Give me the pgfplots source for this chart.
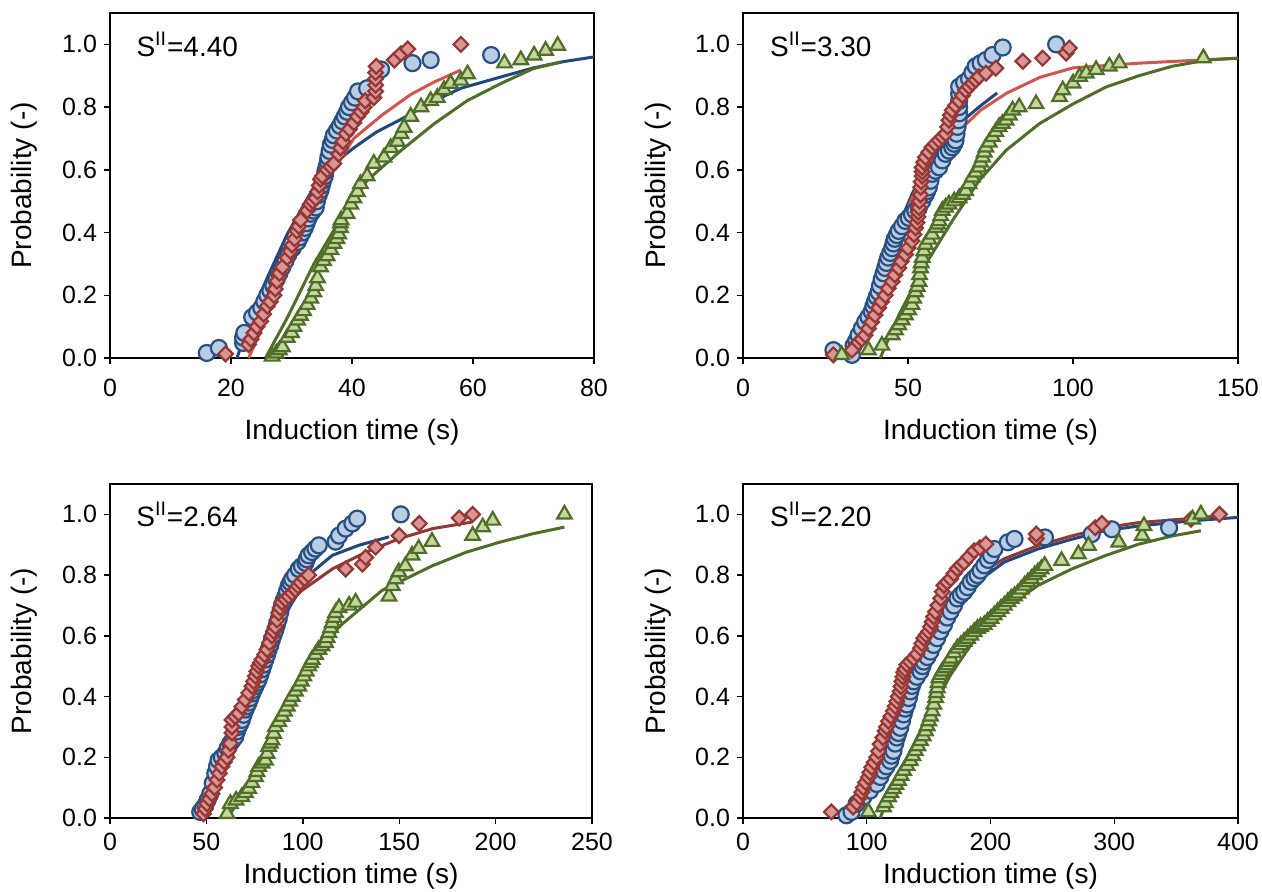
\documentclass[border=0pt]{standalone}
\usepackage{fontspec}
\setmainfont{Liberation Sans}
\usepackage{pgfplots}
\pgfplotsset{compat=1.18}
\definecolor{circfill}{RGB}{185,205,229}
\definecolor{circedge}{RGB}{40,80,130}
\definecolor{diafill}{RGB}{217,150,148}
\definecolor{diaedge}{RGB}{149,55,53}
\definecolor{trifill}{RGB}{195,214,155}
\definecolor{triedge}{RGB}{80,110,40}
\definecolor{lineblue}{RGB}{31,73,125}
\definecolor{linered}{RGB}{210,85,80}
\definecolor{linedkred}{RGB}{149,55,53}
\definecolor{linegreen}{RGB}{79,110,40}
\pgfplotsset{
  panel/.style={
    scale only axis, anchor=south west,
    ymin=0, ymax=1.1, ytick={0,0.2,0.4,0.6,0.8,1.0},
    tick align=outside, xtick pos=bottom, ytick pos=left,
    major tick length=3pt,
    axis line style={line width=0.7pt},
    tick style={line width=0.7pt, black},
    yticklabel style={/pgf/number format/.cd, fixed, fixed zerofill, precision=1},
    /pgf/number format/assume math mode=true,
    every tick label/.style={font=\fontsize{12.5}{14}\selectfont},
    ylabel={Probability (-)}, xlabel={Induction time (s)},
    label style={font=\fontsize{14}{16}\selectfont},
    clip=false,
  },
  circ/.style={only marks, mark=*, mark size=4pt,
    mark options={fill=circfill, draw=circedge, line width=1.1pt}},
  dia/.style={only marks, mark=square*, mark size=2.6pt,
    mark options={rotate=45, fill=diafill, draw=diaedge, line width=1.1pt}},
  tri/.style={only marks, mark=triangle*, mark size=4.2pt,
    mark options={fill=trifill, draw=triedge, line width=1.1pt}},
  fit/.style={no marks, line width=1.5pt},
}
\newcommand{\sval}[1]{\node[anchor=west, inner sep=0pt, font=\fontsize{14}{16}\selectfont]
  at (rel axis cs:0.054,0.909) {S\textsuperscript{II}=#1};}

\begin{document}
\begin{tikzpicture}
\useasboundingbox (0,0) rectangle (631pt,446pt);

%% S=4.40
\begin{axis}[panel, at={(55pt,267pt)}, width=242pt, height=172.5pt,
  xmin=0, xmax=80, xtick={0,20,40,60,80},
  xticklabel style={yshift=-4pt},
  xlabel style={at={(axis description cs:0.5,-0.215)}, anchor=center},
  ylabel style={at={(axis description cs:-0.178,0.5)}, anchor=center}]
\addplot[circ] coordinates {(16,0.016)(18,0.032)(22,0.048)(22,0.065)(22.2,0.08)(23.5,0.13)(24.3,0.145)(25,0.16)(25.5,0.18)(26,0.2)(26.5,0.215)(27,0.23)(27.5,0.25)(28,0.27)(28.5,0.29)(29,0.31)(29.5,0.33)(30.2,0.35)(31,0.37)(31.4,0.385)(31.8,0.4)(32.2,0.415)(32.5,0.43)(32.8,0.445)(33.2,0.46)(33.6,0.47)(34,0.48)(34.2,0.5)(34.5,0.52)(34.8,0.535)(35,0.55)(35.2,0.565)(35.5,0.58)(35.6,0.595)(35.8,0.61)(36,0.625)(36.1,0.64)(36.3,0.66)(36.5,0.68)(36.8,0.695)(37,0.71)(37.5,0.725)(38,0.74)(38.4,0.755)(38.8,0.77)(39.2,0.785)(39.5,0.8)(40,0.815)(40.5,0.83)(41,0.85)(42.5,0.86)(44.8,0.92)(50,0.94)(53,0.95)(63,0.966)};
\addplot[dia] coordinates {(19.1,0.013)(22.9,0.043)(23.3,0.06)(23.8,0.08)(24.3,0.1)(24.9,0.117)(25.4,0.14)(26,0.165)(26.5,0.18)(27.1,0.2)(27.3,0.22)(27.6,0.245)(28,0.27)(28.5,0.29)(29.3,0.32)(29.8,0.34)(30.1,0.36)(30.5,0.38)(30.9,0.405)(31.2,0.42)(31.5,0.44)(32.6,0.47)(33.1,0.49)(33.5,0.5)(34,0.51)(34.3,0.53)(34.6,0.55)(34.8,0.57)(35.1,0.58)(35.9,0.6)(36.5,0.61)(37,0.62)(37.8,0.65)(38.1,0.67)(38.5,0.69)(39,0.715)(39.6,0.73)(40.3,0.75)(40.9,0.77)(41.5,0.785)(42,0.8)(42.2,0.82)(43.6,0.83)(43.9,0.85)(43.9,0.87)(43.9,0.89)(43.9,0.91)(44,0.93)(47,0.95)(48.1,0.97)(49.2,0.985)(58,1.0)};
\addplot[tri] coordinates {(26.8,0.005)(27.5,0.015)(28,0.025)(28.5,0.035)(29.3,0.065)(30,0.08)(30.4,0.1)(31,0.12)(31.5,0.135)(32,0.15)(32.6,0.17)(33.2,0.19)(33.7,0.21)(34,0.23)(34.3,0.255)(34.8,0.29)(35.3,0.31)(35.9,0.325)(36.5,0.345)(37,0.365)(37.5,0.38)(37.8,0.395)(38.1,0.415)(38.1,0.43)(38.2,0.44)(39.2,0.46)(39.8,0.49)(40.3,0.51)(40.9,0.53)(41.4,0.555)(42.5,0.58)(43.6,0.62)(45.3,0.64)(46.4,0.67)(47.5,0.69)(48.1,0.715)(48.6,0.735)(49.7,0.77)(51.4,0.8)(53,0.82)(54.1,0.83)(55.2,0.855)(56.3,0.875)(58,0.885)(59.1,0.905)(65.2,0.94)(67.9,0.95)(70.1,0.965)(72,0.98)(74,0.996)};
\addplot[fit, lineblue] coordinates {(21,0)(23.2,0.13)(26,0.256)(29.3,0.395)(33.7,0.545)(37,0.62)(40.3,0.67)(44,0.72)(48,0.76)(53.6,0.82)(58,0.86)(64.6,0.896)(70,0.925)(75,0.945)(80,0.96)};
\addplot[fit, linered] coordinates {(22.9,0)(25,0.09)(27,0.18)(29,0.29)(31.5,0.395)(34,0.51)(37,0.6)(40.3,0.70)(45,0.775)(49.7,0.84)(53.6,0.88)(58,0.918)};
\addplot[fit, linegreen] coordinates {(25.7,0)(29.3,0.128)(33.7,0.3)(38,0.44)(42.5,0.566)(48,0.66)(53.6,0.747)(59,0.82)(64.6,0.875)(70,0.923)(74.6,0.944)};
\sval{4.40}
\end{axis}

%% S=3.30
\begin{axis}[panel, at={(371.5pt,267pt)}, width=247.5pt, height=172.5pt,
  xmin=0, xmax=150, xtick={0,50,100,150},
  xticklabel style={yshift=-4pt},
  xlabel style={at={(axis description cs:0.5,-0.215)}, anchor=center},
  ylabel style={at={(axis description cs:-0.172,0.5)}, anchor=center}]
\addplot[circ] coordinates {(27.4,0.025)(33,0.01)(33.5,0.04)(34.3,0.055)(35,0.073)(36,0.094)(37,0.115)(38,0.131)(39,0.148)(39.5,0.165)(40,0.18)(40.5,0.195)(41.1,0.21)(41.5,0.23)(42,0.25)(42.6,0.27)(43.1,0.287)(43.5,0.303)(44,0.32)(44.6,0.335)(45.2,0.35)(45.6,0.365)(46,0.38)(46.6,0.392)(47.2,0.405)(48.2,0.42)(49.2,0.437)(50.2,0.447)(51.2,0.458)(52.2,0.469)(53.3,0.48)(54.3,0.5)(55.3,0.52)(55.8,0.532)(56.3,0.544)(56.8,0.565)(57.3,0.587)(58.3,0.597)(59.4,0.608)(60.4,0.63)(61.4,0.651)(62.4,0.661)(63.4,0.672)(64,0.683)(64.4,0.694)(64.7,0.715)(65,0.737)(65.3,0.758)(65.5,0.78)(65.5,0.8)(65.5,0.82)(65.5,0.842)(65.5,0.865)(67,0.878)(68.5,0.89)(69.5,0.91)(70.5,0.93)(72,0.94)(73.6,0.95)(75.6,0.966)(78.7,0.99)(94.9,1.0)};
\addplot[dia] coordinates {(27.4,0.01)(33,0.025)(35,0.05)(36,0.06)(37,0.073)(38,0.094)(39,0.115)(40,0.137)(41.1,0.16)(42,0.18)(43.1,0.2)(44,0.222)(45.2,0.244)(46,0.265)(47.2,0.287)(48,0.308)(49.2,0.33)(50,0.351)(51.2,0.373)(51.8,0.394)(52.3,0.415)(52.7,0.432)(53,0.45)(53.1,0.465)(53.3,0.48)(53.5,0.5)(53.8,0.52)(53.8,0.544)(54,0.562)(54.3,0.58)(54.3,0.594)(54.3,0.608)(54.8,0.624)(55.3,0.64)(56.3,0.656)(57.3,0.672)(58.3,0.683)(59.4,0.694)(60.4,0.705)(61.4,0.715)(62,0.737)(62.4,0.758)(62.9,0.774)(63.4,0.79)(64.4,0.805)(65.5,0.82)(66.5,0.837)(67.5,0.854)(68.5,0.865)(69.5,0.876)(70.5,0.886)(71.5,0.897)(73.6,0.908)(76.6,0.924)(84.8,0.946)(90.8,0.956)(97.9,0.972)(98.9,0.988)};
\addplot[tri] coordinates {(29.9,0.01)(38,0.025)(42.1,0.04)(45.2,0.073)(46.2,0.089)(47.2,0.105)(48.2,0.121)(49.2,0.137)(50.2,0.153)(51.2,0.17)(51.7,0.19)(52.3,0.21)(52.8,0.227)(53.3,0.244)(53.5,0.265)(53.8,0.287)(54,0.303)(54.3,0.32)(54.8,0.341)(55.3,0.362)(56.3,0.378)(57.3,0.394)(58.4,0.415)(59,0.426)(59.4,0.437)(59.9,0.453)(60.4,0.47)(61.4,0.48)(62.4,0.49)(64,0.5)(65.5,0.51)(66.5,0.521)(67.5,0.533)(68.5,0.555)(69.5,0.576)(70.5,0.592)(71.5,0.608)(72,0.624)(72.6,0.64)(73.1,0.656)(73.6,0.672)(74.6,0.688)(75.6,0.705)(76.6,0.721)(77.6,0.737)(78.6,0.747)(79.7,0.758)(80.7,0.774)(81.7,0.79)(83.7,0.8)(88.8,0.81)(95.9,0.833)(96.9,0.854)(100,0.876)(102,0.897)(104,0.908)(107,0.919)(111,0.93)(114,0.94)(139.5,0.956)};
\addplot[fit, lineblue] coordinates {(31,0)(35,0.1)(39,0.21)(45.2,0.373)(51.2,0.522)(55,0.6)(59.4,0.672)(65.5,0.747)(71.5,0.8)(77,0.845)};
\addplot[fit, linered] coordinates {(32,0)(39,0.18)(45.2,0.35)(51.2,0.51)(55,0.59)(59.4,0.665)(65,0.72)(72,0.79)(80,0.845)(90,0.895)(100,0.925)(120,0.94)(150,0.956)};
\addplot[fit, linegreen] coordinates {(41.6,0)(47.2,0.137)(55.3,0.298)(63.4,0.437)(71.5,0.565)(79.7,0.662)(89.8,0.747)(100,0.81)(110,0.864)(120,0.9)(130,0.93)(140.6,0.95)(150,0.956)};
\sval{3.30}
\end{axis}

%% S=2.64
\begin{axis}[panel, at={(55pt,37pt)}, width=241pt, height=167pt,
  xmin=0, xmax=250, xtick={0,50,100,150,200,250},
  xticklabel style={yshift=-1pt},
  xlabel style={at={(axis description cs:0.5,-0.174)}, anchor=center},
  ylabel style={at={(axis description cs:-0.178,0.5)}, anchor=center}]
\addplot[circ] coordinates {(46.8,0.02)(48,0.03)(49.4,0.042)(50.7,0.06)(52,0.08)(53.3,0.115)(54.6,0.147)(55.5,0.17)(56.3,0.19)(58,0.2)(59.8,0.213)(61,0.23)(62.4,0.246)(63.7,0.257)(65,0.268)(65.8,0.285)(66.7,0.3)(67.5,0.31)(68.4,0.323)(69.3,0.34)(70.2,0.357)(71,0.368)(71.9,0.38)(72.8,0.395)(73.7,0.41)(74.5,0.422)(75.4,0.434)(76.2,0.445)(77.1,0.456)(78,0.473)(78.9,0.49)(79.7,0.505)(80.6,0.522)(81.5,0.538)(82.3,0.555)(83.2,0.57)(84,0.588)(84.9,0.604)(85.8,0.62)(86.6,0.637)(87.5,0.655)(88.3,0.677)(89.2,0.7)(90,0.715)(91,0.73)(91.8,0.747)(92.7,0.765)(93.6,0.776)(94.5,0.787)(96,0.8)(97.9,0.82)(99.5,0.83)(101.4,0.84)(102,0.852)(103,0.865)(104.8,0.876)(106.5,0.887)(108.3,0.898)(117,0.91)(118.8,0.93)(122.2,0.953)(125.7,0.97)(128.2,0.986)(150.8,1.0)};
\addplot[dia] coordinates {(48.5,0.014)(49.4,0.03)(50.3,0.047)(51.6,0.063)(52.9,0.08)(54.2,0.1)(55.5,0.125)(56.7,0.147)(58,0.169)(59.3,0.185)(60.7,0.2)(61.5,0.223)(62.4,0.246)(63.3,0.28)(63.3,0.3)(63.3,0.323)(65,0.334)(66.7,0.345)(68.4,0.367)(70.2,0.39)(72,0.412)(73.7,0.434)(74.5,0.45)(75.4,0.467)(76.2,0.483)(77.1,0.5)(78,0.511)(78.9,0.522)(80.2,0.538)(81.5,0.555)(82.7,0.577)(84,0.6)(84.9,0.615)(85.8,0.63)(86.6,0.652)(87.5,0.675)(88.3,0.692)(89.2,0.71)(91,0.72)(92.7,0.73)(94.5,0.741)(96.2,0.752)(97.5,0.764)(98.8,0.776)(100.9,0.788)(103,0.8)(122.2,0.82)(130.9,0.836)(132.6,0.858)(137.8,0.892)(150,0.93)(160.4,0.97)(181.1,0.988)(188.1,1.0)};
\addplot[tri] coordinates {(60.7,0.014)(62.4,0.047)(65.4,0.058)(68.4,0.07)(70.2,0.083)(71.9,0.097)(73.6,0.116)(75.4,0.136)(76.2,0.152)(77.1,0.169)(78.9,0.18)(80.6,0.19)(81.5,0.212)(82.3,0.235)(83.2,0.246)(84,0.257)(84.9,0.278)(85.8,0.3)(87.5,0.317)(89.2,0.334)(90.5,0.351)(91.9,0.368)(93.2,0.384)(94.5,0.4)(96.2,0.417)(97.9,0.434)(99.2,0.45)(100.5,0.467)(101.8,0.483)(103.1,0.5)(104,0.511)(104.9,0.522)(106.6,0.538)(108.3,0.555)(110,0.566)(111.8,0.577)(112.6,0.593)(113.5,0.61)(114.4,0.626)(115.3,0.643)(116.2,0.66)(117,0.676)(118.8,0.692)(124,0.7)(127.4,0.71)(144.7,0.73)(146.4,0.765)(148.1,0.787)(149.8,0.81)(153.2,0.83)(156.7,0.865)(160.1,0.887)(167,0.91)(188.1,0.93)(193.3,0.958)(198.5,0.98)(235.7,1.0)};
\addplot[fit, lineblue] coordinates {(46,0)(59.8,0.213)(73.7,0.434)(84,0.588)(94.5,0.71)(104.9,0.81)(115.3,0.865)(129,0.898)(144.7,0.926)};
\addplot[fit, linedkred] coordinates {(47.7,0)(63.3,0.3)(77.1,0.5)(87.5,0.655)(97.9,0.742)(115.3,0.82)(132.6,0.875)(150,0.92)(167.3,0.953)(188,0.975)};
\addplot[fit, linegreen] coordinates {(60.7,0)(71.9,0.1)(84,0.257)(97.9,0.434)(118.8,0.63)(141.2,0.75)(167,0.83)(184.6,0.875)(201.9,0.908)(219.2,0.936)(235.7,0.958)};
\sval{2.64}
\end{axis}

%% S=2.20
\begin{axis}[panel, at={(371.5pt,37pt)}, width=247.5pt, height=167pt,
  xmin=0, xmax=400, xtick={0,100,200,300,400},
  xticklabel style={yshift=-1pt},
  xlabel style={at={(axis description cs:0.5,-0.174)}, anchor=center},
  ylabel style={at={(axis description cs:-0.172,0.5)}, anchor=center}]
\addplot[circ] coordinates {(83.6,0.009)(87.7,0.02)(91.8,0.047)(97.2,0.069)(102.6,0.09)(108,0.112)(111,0.135)(113.5,0.156)(116,0.17)(118.9,0.188)(120,0.205)(121.6,0.221)(123,0.245)(124.3,0.265)(125.5,0.28)(127,0.297)(128.5,0.32)(129.8,0.341)(131,0.36)(132.5,0.374)(134,0.395)(135.2,0.417)(136.5,0.435)(137.9,0.45)(140.5,0.465)(143.4,0.483)(145,0.5)(146.1,0.515)(149,0.53)(151.5,0.548)(154,0.57)(156.9,0.592)(159.5,0.615)(162.4,0.636)(165,0.66)(167.8,0.68)(170.5,0.70)(173.2,0.723)(176,0.735)(178.7,0.745)(181.5,0.76)(184.1,0.778)(187,0.79)(189.5,0.8)(192,0.815)(195,0.832)(198,0.85)(200.4,0.865)(203.1,0.886)(214,0.908)(219.4,0.919)(244,0.924)(281.8,0.935)(298,0.951)(344.3,0.956)};
\addplot[dia] coordinates {(71.4,0.02)(89,0.036)(92,0.05)(94.5,0.069)(96,0.085)(97.2,0.1)(99,0.117)(101.3,0.134)(102.5,0.15)(104,0.167)(106,0.183)(108,0.2)(109.5,0.22)(110.8,0.243)(113,0.265)(114.9,0.286)(116,0.3)(117.6,0.319)(119.5,0.335)(121.6,0.352)(123,0.368)(124.3,0.384)(125.5,0.4)(127,0.417)(127.7,0.433)(128.4,0.45)(129.2,0.465)(130,0.48)(131,0.49)(132.5,0.505)(135,0.515)(137.9,0.526)(140.5,0.54)(143.4,0.559)(144.5,0.575)(146.1,0.592)(148,0.603)(150.1,0.614)(151.5,0.63)(152.9,0.646)(154,0.663)(155.6,0.679)(157.5,0.70)(159.7,0.723)(161,0.745)(162.4,0.766)(165,0.777)(167.8,0.788)(170.5,0.805)(173.2,0.821)(176,0.832)(178.7,0.842)(182.5,0.86)(186.8,0.88)(191.5,0.89)(196.3,0.902)(237,0.92)(237,0.935)(284.6,0.956)(290,0.97)(362,0.984)(385,1.0)};
\addplot[tri] coordinates {(101.3,0.02)(113.5,0.036)(115,0.05)(117.6,0.069)(119.5,0.083)(121.6,0.096)(123.5,0.11)(125.7,0.123)(127.7,0.14)(129.8,0.156)(132.5,0.172)(135.2,0.188)(137.2,0.205)(139.3,0.221)(141.3,0.237)(143.4,0.254)(145.5,0.27)(147.5,0.286)(148.8,0.303)(150.1,0.319)(151.5,0.335)(152.9,0.352)(154.2,0.374)(155.6,0.396)(156.3,0.412)(157,0.428)(157.6,0.445)(158.3,0.461)(159.6,0.472)(161,0.483)(163,0.494)(165.1,0.504)(166.4,0.515)(167.8,0.526)(170.5,0.543)(173.2,0.559)(176,0.57)(178.7,0.581)(181.4,0.591)(184.1,0.602)(186.8,0.613)(189.5,0.624)(192,0.63)(195,0.636)(197.7,0.647)(200.4,0.657)(203,0.668)(205.8,0.679)(208.5,0.69)(211.2,0.7)(214,0.712)(216.7,0.723)(219.4,0.731)(222.1,0.74)(224.8,0.753)(227.5,0.766)(230.2,0.777)(233,0.788)(235.7,0.8)(238.4,0.81)(241,0.82)(243.8,0.831)(257.4,0.847)(271,0.869)(279.2,0.897)(303.6,0.908)(322.6,0.93)(324,0.962)(363.3,0.984)(370,1.0)};
\addplot[fit, lineblue] coordinates {(83.6,0)(102.6,0.156)(124.3,0.352)(146.1,0.537)(167.8,0.68)(189.5,0.778)(211.2,0.843)(238.4,0.886)(265.6,0.918)(292.7,0.946)(319.9,0.962)(360.6,0.978)(400,0.99)};
\addplot[fit, linedkred] coordinates {(86.3,0)(108,0.178)(129.8,0.384)(151.5,0.57)(167.8,0.7)(189.5,0.8)(211.2,0.854)(238.4,0.897)(265.6,0.929)(292.7,0.956)(319.9,0.973)(360.6,0.986)(385,0.995)};
\addplot[fit, linegreen] coordinates {(110.8,0)(124.3,0.134)(146.1,0.308)(167.8,0.472)(189.5,0.602)(211.2,0.689)(238.4,0.766)(265.6,0.82)(292.7,0.864)(319.9,0.902)(347,0.929)(370,0.946)};
\sval{2.20}
\end{axis}
\end{tikzpicture}
\end{document}
